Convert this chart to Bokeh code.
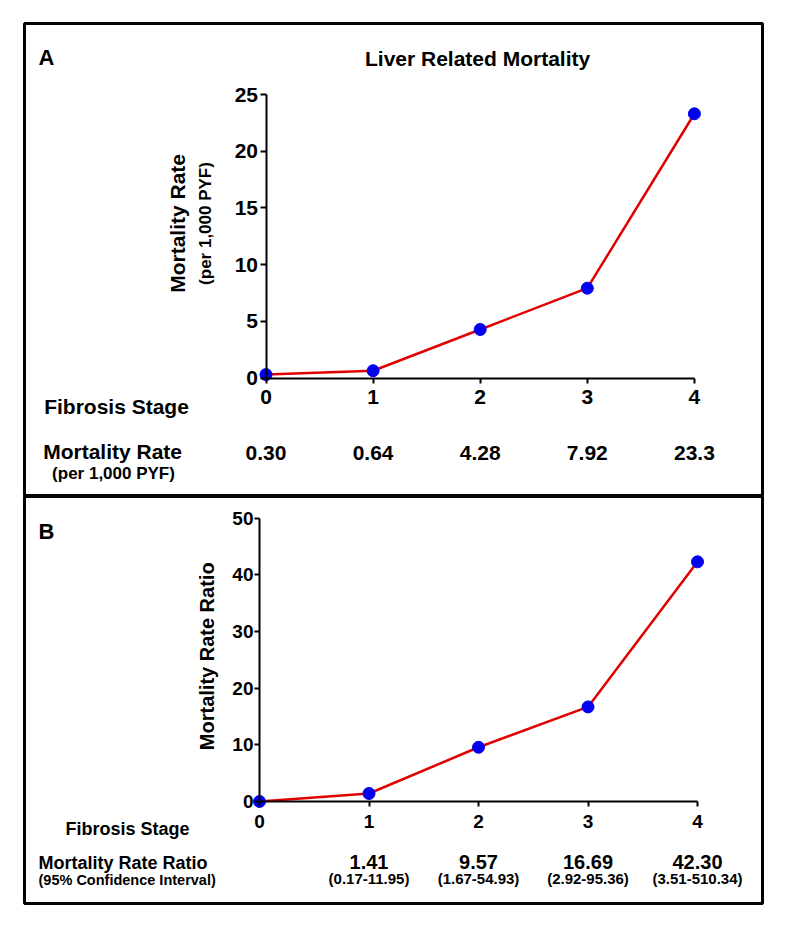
import math
from bokeh.plotting import figure
from bokeh.models import Range1d, LinearAxis, FixedTicker, Label
from bokeh.layouts import column
from bokeh.core.properties import value
from bokeh.embed import file_html
from bokeh.resources import INLINE

# ---------------- data ----------------
stages = [0, 1, 2, 3, 4]
rate = [0.30, 0.64, 4.28, 7.92, 23.3]
rate_labels = ["0.30", "0.64", "4.28", "7.92", "23.3"]
ratio = [0.0, 1.41, 9.57, 16.69, 42.30]
ratio_labels = ["", "1.41", "9.57", "16.69", "42.30"]
ci_labels = ["", "(0.17-11.95)", "(1.67-54.93)", "(2.92-95.36)", "(3.51-510.34)"]
yticks_a = [0, 5, 10, 15, 20, 25]
yticks_b = [0, 10, 20, 30, 40, 50]

FONT_NAME = "Liberation Sans"
FONT = value(FONT_NAME)
LINE_COLOR = "#e00000"
DOT_COLOR = "#0000f0"
CANVAS_ORIGIN = 0  # the layout is drawn from the page's top-left corner


class Mapper:
    """Converts page-pixel layout positions into data coordinates of a panel."""
    def __init__(self, frame, origin, scale):
        self.L, self.T, self.R, self.B = frame
        self.x0, self.y0 = origin
        self.sx, self.sy = scale

    def dx(self, px):
        return (px - self.x0) / self.sx

    def dy(self, py):
        return (self.y0 - py) / self.sy


def make_fig(m, top_border, bottom_border):
    p = figure(
        frame_width=m.R - m.L, frame_height=m.B - m.T,
        x_range=Range1d(m.dx(m.L), m.dx(m.R)),
        y_range=Range1d(m.dy(m.B), m.dy(m.T)),
        min_border_left=m.L - CANVAS_ORIGIN, min_border_right=8,
        min_border_top=top_border, min_border_bottom=bottom_border,
        x_axis_type=None, y_axis_type=None,
        toolbar_location=None, output_backend="svg",
        background_fill_color="white", border_fill_color="white",
        outline_line_color="black", outline_line_width=3,
    )
    return p


def style_axis(ax, font_size, tick_len, standoff):
    ax.axis_line_color = "black"
    ax.axis_line_width = 2
    ax.major_tick_line_color = "black"
    ax.major_tick_line_width = 2
    ax.major_tick_out = tick_len
    ax.major_tick_in = 0
    ax.minor_tick_line_color = None
    ax.major_label_text_font = FONT_NAME
    ax.major_label_text_font_style = "bold"
    ax.major_label_text_font_size = font_size
    ax.major_label_text_color = "black"
    ax.major_label_standoff = standoff


def label(p, x, y, text, size, align="left", angle=0.0):
    p.add_layout(Label(x=x, y=y, text=text, angle=angle,
                       text_font=FONT_NAME, text_font_style="bold",
                       text_font_size=size, text_color="black",
                       text_align=align, text_baseline="alphabetic"))


# ---------------- panel A ----------------
ma = Mapper(frame=(24, 23, 762, 495), origin=(265.5, 377.5), scale=(107.1, 11.34))
pa = make_fig(ma, top_border=23 - CANVAS_ORIGIN, bottom_border=1)

xa = LinearAxis(fixed_location=0, bounds=(stages[0], stages[-1]),
                ticker=FixedTicker(ticks=stages))
style_axis(xa, "21px", 5, 7)
pa.add_layout(xa, "below")
ya = LinearAxis(fixed_location=0, bounds=(yticks_a[0], yticks_a[-1]),
                ticker=FixedTicker(ticks=yticks_a))
style_axis(ya, "21px", 6, 2)
pa.add_layout(ya, "left")

pa.line(stages, rate, line_color=LINE_COLOR, line_width=2.5)
pa.scatter(stages, rate, size=12, fill_color=DOT_COLOR, line_color=DOT_COLOR)

label(pa, ma.dx(38), ma.dy(57), "A", "22px")
label(pa, ma.dx(480), ma.dy(58), "Liver  Related Mortality", "21px", align="center")
label(pa, ma.dx(177), ma.dy(220), "Mortality  Rate", "21px", align="center", angle=math.pi / 2)
label(pa, ma.dx(205), ma.dy(223), "(per 1,000 PYF)", "17px", align="center", angle=math.pi / 2)
label(pa, ma.dx(116), ma.dy(406), "Fibrosis Stage", "21px", align="center")
label(pa, ma.dx(115), ma.dy(451), "Mortality  Rate", "21px", align="center")
label(pa, ma.dx(113), ma.dy(473), "(per 1,000 PYF)", "17px", align="center")
pa.text(x=stages, y=ma.dy(452), text=rate_labels, text_font=FONT,
        text_font_style="bold", text_font_size="21px", text_color="black",
        text_align="center", text_baseline="alphabetic")

# ---------------- panel B ----------------
mb = Mapper(frame=(24, 496, 762, 903), origin=(259, 801), scale=(109.5, 5.666))
pb = make_fig(mb, top_border=0, bottom_border=4)

xb = LinearAxis(fixed_location=0, bounds=(stages[0], stages[-1]),
                ticker=FixedTicker(ticks=stages))
style_axis(xb, "19px", 5, 8)
pb.add_layout(xb, "below")
yb = LinearAxis(fixed_location=0, bounds=(yticks_b[0], yticks_b[-1]),
                ticker=FixedTicker(ticks=yticks_b))
style_axis(yb, "19px", 5, 1)
pb.add_layout(yb, "left")

pb.line(stages, ratio, line_color=LINE_COLOR, line_width=2.5)
pb.scatter(stages, ratio, size=12, fill_color=DOT_COLOR, line_color=DOT_COLOR)

label(pb, mb.dx(38), mb.dy(531), "B", "22px")
label(pb, mb.dx(206), mb.dy(653), "Mortality  Rate Ratio", "20px", align="center", angle=math.pi / 2)
label(pb, mb.dx(127), mb.dy(828), "Fibrosis Stage", "18px", align="center")
label(pb, mb.dx(38), mb.dy(862), "Mortality  Rate Ratio", "18px")
label(pb, mb.dx(38), mb.dy(879), "(95% Confidence  Interval)", "14.5px")
pb.text(x=stages, y=mb.dy(861), text=ratio_labels, text_font=FONT,
        text_font_style="bold", text_font_size="20px", text_color="black",
        text_align="center", text_baseline="alphabetic")
pb.text(x=stages, y=mb.dy(878), text=ci_labels, text_font=FONT,
        text_font_style="bold", text_font_size="15px", text_color="black",
        text_align="center", text_baseline="alphabetic")

layout = column(pa, pb, spacing=0)
open("out.html", "w").write(file_html(layout, INLINE))
